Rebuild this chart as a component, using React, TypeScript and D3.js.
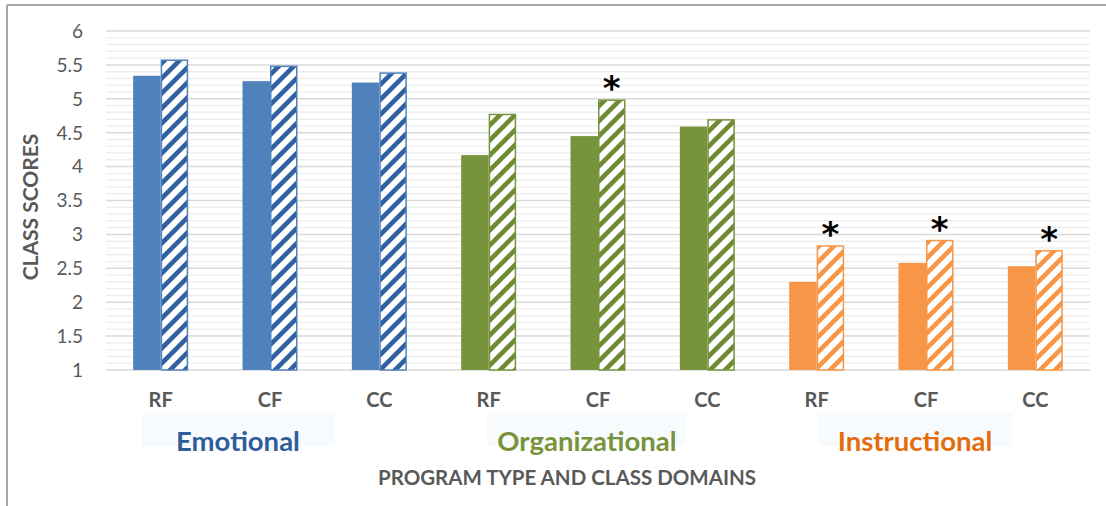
import React from "react";
import * as d3 from "d3";

const domains = ["Emotional", "Organizational", "Instructional"];
const programs = ["RF", "CF", "CC"];
const solidValues = [5.34, 5.26, 5.24, 4.17, 4.45, 4.59, 2.3, 2.58, 2.53];
const hatchedValues = [5.58, 5.49, 5.39, 4.78, 4.99, 4.7, 2.84, 2.92, 2.77];
const significant = [false, false, false, false, true, false, true, true, true];
const yTicks = [1, 1.5, 2, 2.5, 3, 3.5, 4, 4.5, 5, 5.5, 6];
const yTickLabels = ["1", "1.5", "2", "2.5", "3", "3.5", "4", "4.5", "5", "5.5", "6"];
const yAxisTitle = "CLASS SCORES";
const xAxisTitle = "PROGRAM TYPE AND CLASS DOMAINS";

const solidColors = ["#4F81BD", "#77933C", "#F79646"];
const stripeColors = ["#30609F", "#6E8B34", "#F79646"];
const labelColors = ["#2F5D9B", "#77933C", "#E46C0A"];
const labelBoxes = [
  { cx: 238, x0: 142, x1: 335 },
  { cx: 587, x0: 487, x1: 685 },
  { cx: 915, x0: 819, x1: 1012 },
];

const W = 1106;
const H = 506;
const plot = { left: 106, right: 1090, top: 31, bottom: 370 };
const FONT = "Lato, 'Open Sans', sans-serif";

export default function App() {
  const n = solidValues.length;
  const x = d3
    .scaleBand<number>()
    .domain(d3.range(n))
    .range([plot.left, plot.right])
    .padding(0);
  const y = d3.scaleLinear().domain([1, 6]).range([plot.bottom, plot.top]);
  const barW = 27.5;
  const minor = d3
    .range(1, 6.0001, 0.1)
    .map((v) => Math.round(v * 10) / 10)
    .filter((v) => Math.round(v * 10) % 5 !== 0);
  const P = 15;

  return (
    <div style={{ position: "absolute", left: 0, top: 0 }}>
      <svg width={W} height={H} style={{ display: "block", background: "#fff" }}>
        <defs>
          {stripeColors.map((c, i) => (
            <pattern key={i} id={`hatch${i}`} patternUnits="userSpaceOnUse" width={P} height={P}>
              <rect width={P} height={P} fill="#fff" />
              <path
                d={`M${-P / 4},${P / 4} L${P / 4},${-P / 4} M0,${P} L${P},0 M${(3 * P) / 4},${(5 * P) / 4} L${(5 * P) / 4},${(3 * P) / 4}`}
                stroke={c}
                strokeWidth={4.6}
              />
            </pattern>
          ))}
        </defs>
        {/* frame */}
        <line x1={7} x2={W} y1={5} y2={5} stroke="#A6A6A6" strokeWidth={2} />
        <line x1={7} x2={7} y1={5} y2={H} stroke="#A6A6A6" strokeWidth={2} />

        {/* minor grid */}
        {minor.map((v) => (
          <line key={`m${v}`} x1={plot.left} x2={plot.right} y1={y(v)} y2={y(v)} stroke="#EFEFEF" strokeWidth={1.5} />
        ))}
        {/* major grid */}
        {yTicks.map((v) => (
          <line key={`g${v}`} x1={plot.left} x2={plot.right} y1={y(v)} y2={y(v)} stroke="#D9D9D9" strokeWidth={1.5} />
        ))}
        {/* y tick labels */}
        {yTicks.map((v, i) => (
          <text key={`t${v}`} x={83} y={y(v)} dy="0.36em" textAnchor="end" fontFamily={FONT} fontSize={19} fill="#595959">
            {yTickLabels[i]}
          </text>
        ))}

        {/* bars */}
        {solidValues.map((v, i) => {
          const g = Math.floor(i / 3);
          const cx = (x(i) as number) + x.bandwidth() / 2;
          const hv = hatchedValues[i];
          return (
            <g key={`b${i}`}>
              <rect x={cx - barW} y={y(v)} width={barW} height={y(1) - y(v)} fill={solidColors[g]} />
              <rect
                x={cx + 0.75}
                y={y(hv) + 0.75}
                width={barW - 1.5}
                height={y(1) - y(hv) - 0.75}
                fill={`url(#hatch${g})`}
                stroke={solidColors[g]}
                strokeWidth={1.5}
              />
              {significant[i] && (
                <text
                  x={cx + barW / 2}
                  y={y(hv) + 1}
                  textAnchor="middle"
                  fontFamily="'DejaVu Sans', sans-serif"
                  fontWeight="bold"
                  fontSize={34}
                  fill="#000"
                >
                  *
                </text>
              )}
              <text x={cx} y={407} textAnchor="middle" fontFamily={FONT} fontWeight="bold" fontSize={20} fill="#595959">
                {programs[i % 3]}
              </text>
            </g>
          );
        })}

        {/* domain labels */}
        {domains.map((d, g) => (
          <g key={d}>
            <rect x={labelBoxes[g].x0} y={413} width={labelBoxes[g].x1 - labelBoxes[g].x0} height={33} fill="#F7FBFD" />
            <text x={labelBoxes[g].cx} y={451} textAnchor="middle" fontFamily={FONT} fontWeight="bold" fontSize={27.5} fill={labelColors[g]}>
              {d}
            </text>
          </g>
        ))}

        {/* axis titles */}
        <text
          transform={`translate(38,207) rotate(-90)`}
          textAnchor="middle"
          fontFamily={FONT}
          fontWeight="bold"
          fontSize={21}
          fill="#595959"
        >
          {yAxisTitle}
        </text>
        <text x={567} y={485} textAnchor="middle" fontFamily={FONT} fontWeight="bold" fontSize={20.5} fill="#595959">
          {xAxisTitle}
        </text>
      </svg>
    </div>
  );
}
